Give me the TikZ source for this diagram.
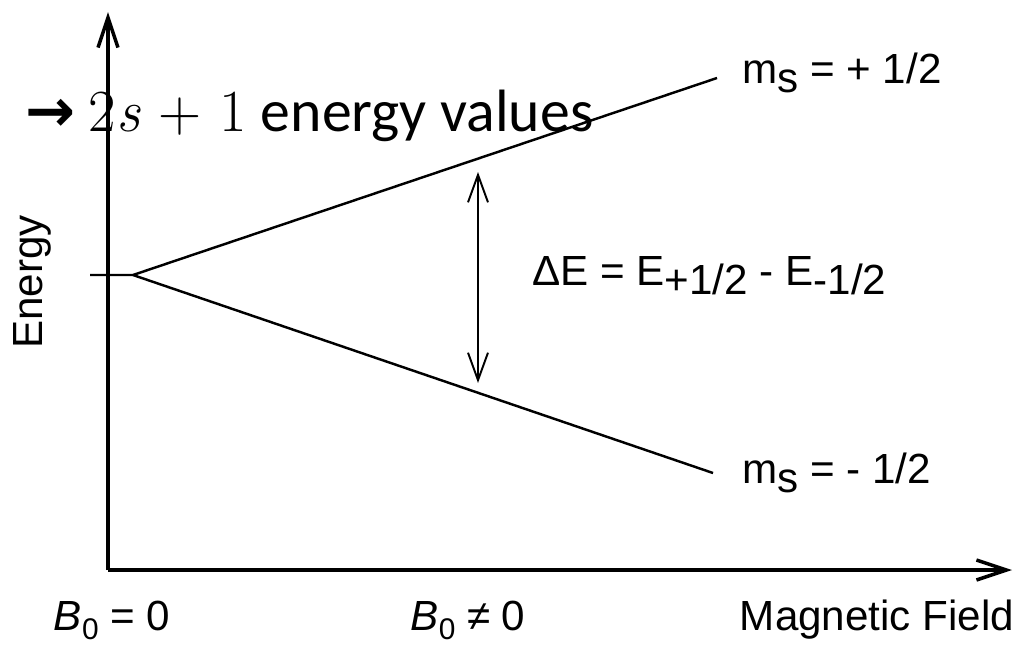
\documentclass[tikz,border=0pt]{standalone}
\usepackage{fontspec}
\newfontfamily\arialfont{Liberation Sans}
\newfontfamily\calfont{Carlito}
\newfontfamily\arrowfont{DejaVu Sans}
\usetikzlibrary{arrows.meta,positioning}

% full size subscript, only lowered
\newcommand{\dropsub}[1]{\raisebox{-5.5pt}{#1}}
% small subscript for the field values
\newcommand{\fieldsub}[1]{\raisebox{-5.5pt}{\fontsize{17}{20}\selectfont #1}}

\begin{document}
\begin{tikzpicture}[x=0.02cm,y=-0.02cm,
    lbl/.style={font=\arialfont\fontsize{24}{28}\selectfont,inner sep=0pt},
    axis/.style={line width=2pt,-{Straight Barb[length=6mm,width=4mm]}},
    level/.style={line width=1.4pt},
    gap/.style={line width=1.1pt,{Straight Barb[length=5.5mm,width=4mm]}-{Straight Barb[length=5.5mm,width=4mm]}}]
      \useasboundingbox (0,0) rectangle (1021,647);

      % Axes
      \coordinate (origin) at (108,570);
      \coordinate (ytip) at (108,12);
      \coordinate (xtip) at (1012,570);
      \draw[axis] (origin) -- (ytip);
      \draw[axis] (origin) -- (xtip);

      % Zeeman levels
      \coordinate (zero) at (90,275);
      \coordinate (split) at (133,275);
      \coordinate (up) at (717,78);
      \coordinate (down) at (713,473);
      \draw[level] (zero) -- (split) -- (up);
      \draw[level] (split) -- (down);

      \node[lbl,anchor=base west] (msup) at (742,83) {m\dropsub{s} = + 1/2};
      \node[lbl,anchor=base west] (msdown) at (742,483) {m\dropsub{s} = - 1/2};

      % Splitting
      \coordinate (gaptop) at (478,172);
      \coordinate (gapbot) at (478,383);
      \draw[gap] (gaptop) -- (gapbot);
      \node[lbl,anchor=base west] (dE) at (532,285) {ΔE = E\dropsub{+1/2} - E\dropsub{-1/2}};

      % Axis labels
      \node[lbl,rotate=90] (ylabel) at (32,282) {Energy};
      \node[lbl,anchor=base] (bzero) at (112,630) {\textit{B}\fieldsub{0} = 0};
      \node[lbl,anchor=base] (bfield) at (468,630) {\textit{B}\fieldsub{0} ≠ 0};
      \node[lbl,anchor=base] (xlabel) at (877,630) {Magnetic Field};

      \node[anchor=base west,inner sep=0pt,font=\calfont\fontsize{34}{40}\selectfont] (count) at (25,131)
        {{\arrowfont\bfseries →} {\rmfamily 2\textit{s} + 1} energy values};
    \end{tikzpicture}
\end{document}
